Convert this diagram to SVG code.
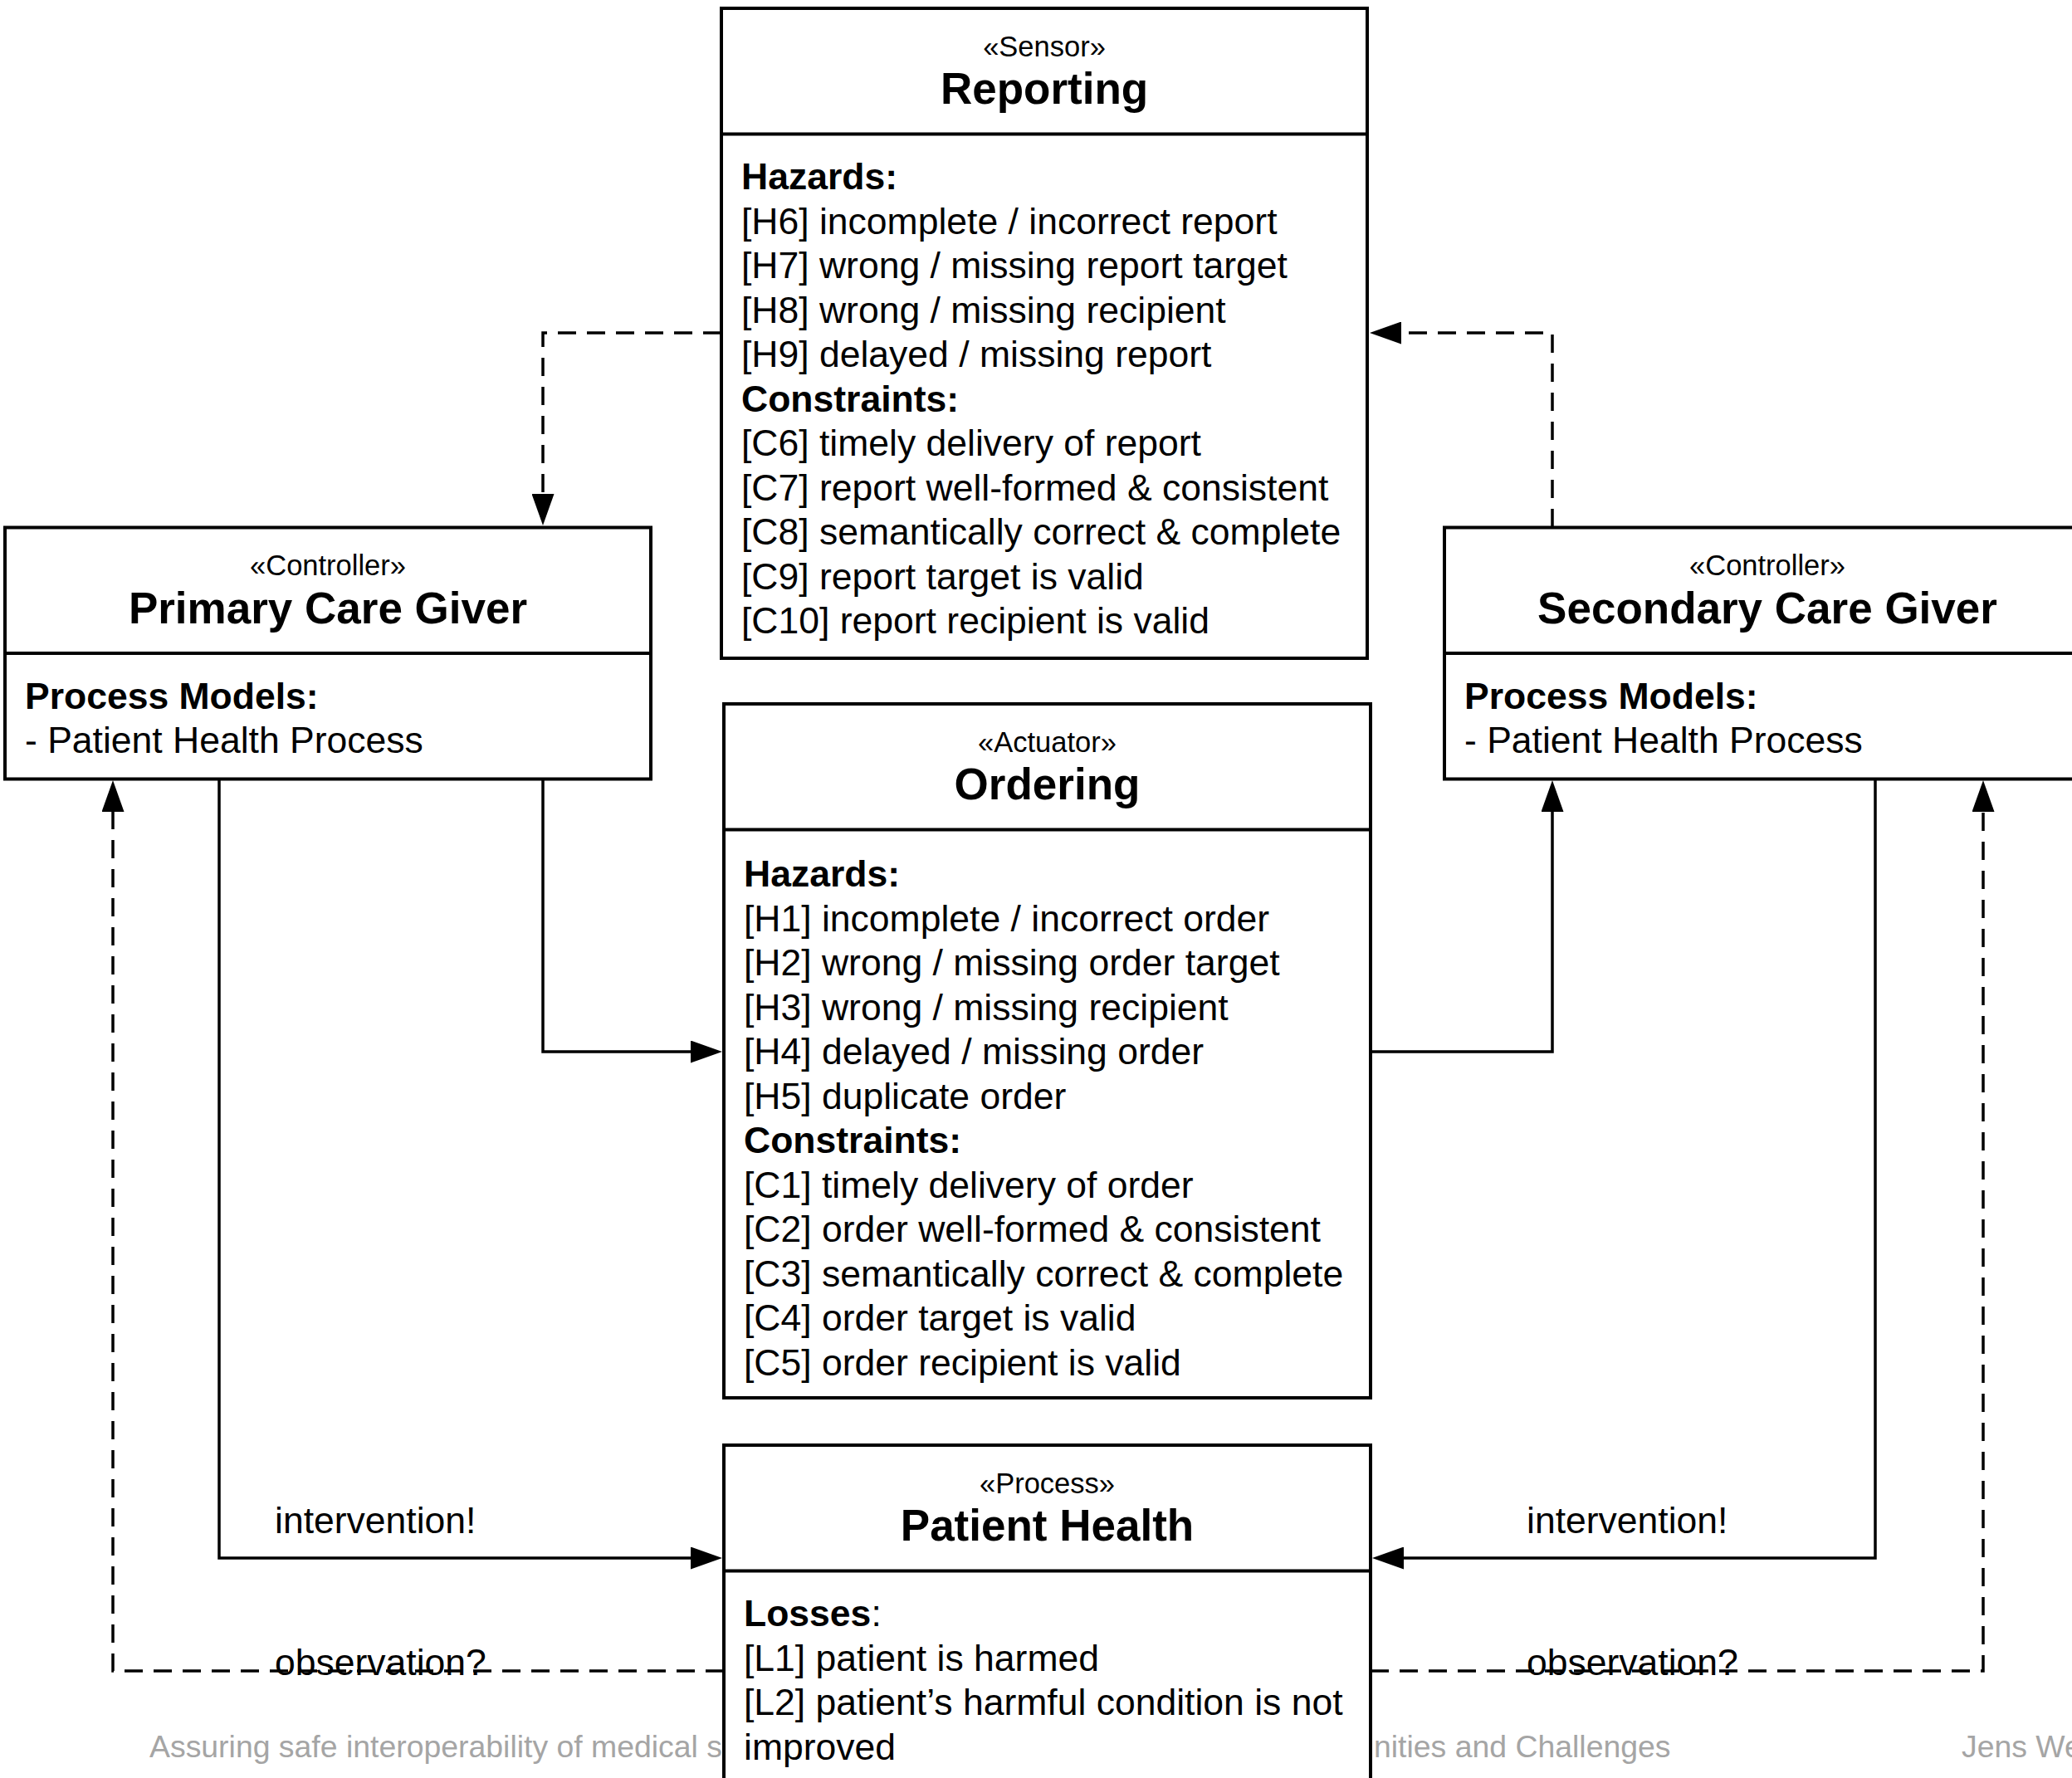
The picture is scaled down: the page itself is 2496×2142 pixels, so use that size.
<svg xmlns="http://www.w3.org/2000/svg" width="2496" height="2142" viewBox="0 0 2496 2142">
<defs>
<marker id="arr" viewBox="0 0 38 27" refX="1" refY="13.5" markerWidth="38" markerHeight="27" markerUnits="userSpaceOnUse" orient="auto">
<path d="M0,0 L38,13.5 L0,27 Z" fill="#000"/>
</marker>
<style>
text{font-family:"Liberation Sans",Arial,Helvetica,sans-serif;fill:#000}
.box{fill:#fff;stroke:#000;stroke-width:4}
.div{stroke:#000;stroke-width:4}
.st{font-size:34.5px;text-anchor:middle}
.ti{font-size:53px;font-weight:bold;text-anchor:middle}
.bd{font-size:44.5px}
.b{font-weight:bold}
.lab{font-size:44.5px}
.ft{font-size:37.4px;fill:#a5a5a5}
.sol{fill:none;stroke:#000;stroke-width:3.5}
.dsh{fill:none;stroke:#000;stroke-width:3.5;stroke-dasharray:22 13}
</style>
</defs>
<rect width="2496" height="2142" fill="#fff"/>

<g id="footer">
<text class="ft" x="180" y="2117">Assuring safe interoperability of medical sy</text>
<text class="ft" x="1655" y="2117">nities and Challenges</text>
<text class="ft" x="2363" y="2117">Jens Weber</text>
</g>

<g id="connectors">
<path class="dsh" d="M869,401 H654 V596" marker-end="url(#arr)"/>
<path class="dsh" d="M1870,635 V401 H1687" marker-end="url(#arr)"/>
<path class="sol" d="M654,938 V1267 H833" marker-end="url(#arr)"/>
<path class="sol" d="M1651,1267 H1870 V977" marker-end="url(#arr)"/>
<path class="sol" d="M264,938 V1877 H833" marker-end="url(#arr)"/>
<path class="sol" d="M2259,938 V1877 H1690" marker-end="url(#arr)"/>
<path class="dsh" d="M872,2013 H136 V977" marker-end="url(#arr)"/>
<path class="dsh" d="M1651,2013 H2389 V977" marker-end="url(#arr)"/>
<text class="lab" x="331" y="1847">intervention!</text>
<text class="lab" x="1839" y="1847">intervention!</text>
<text class="lab" x="331" y="2018">observation?</text>
<text class="lab" x="1839" y="2018">observation?</text>
</g>

<g id="reporting">
<rect class="box" x="869" y="10" width="778" height="783"/>
<line class="div" x1="869" y1="161.5" x2="1647" y2="161.5"/>
<text class="st" x="1258" y="67.5">«Sensor»</text>
<text class="ti" x="1258" y="125">Reporting</text>
<text class="bd" x="893">
<tspan class="b" x="893" y="228">Hazards:</tspan>
<tspan x="893" y="281.5">[H6] incomplete / incorrect report</tspan>
<tspan x="893" y="335">[H7] wrong / missing report target</tspan>
<tspan x="893" y="388.5">[H8] wrong / missing recipient</tspan>
<tspan x="893" y="442">[H9] delayed / missing report</tspan>
<tspan class="b" x="893" y="495.5">Constraints:</tspan>
<tspan x="893" y="549">[C6] timely delivery of report</tspan>
<tspan x="893" y="602.5">[C7] report well-formed &amp; consistent</tspan>
<tspan x="893" y="656">[C8] semantically correct &amp; complete</tspan>
<tspan x="893" y="709.5">[C9] report target is valid</tspan>
<tspan x="893" y="763">[C10] report recipient is valid</tspan>
</text>
</g>

<g id="primary">
<rect class="box" x="6" y="635.5" width="778" height="303"/>
<line class="div" x1="6" y1="787" x2="784" y2="787"/>
<text class="st" x="395" y="693">«Controller»</text>
<text class="ti" x="395" y="750.5">Primary Care Giver</text>
<text class="bd">
<tspan class="b" x="30" y="853.5">Process Models:</tspan>
<tspan x="30" y="907">- Patient Health Process</tspan>
</text>
</g>

<g id="secondary">
<rect class="box" x="1740" y="635.5" width="778" height="303"/>
<line class="div" x1="1740" y1="787" x2="2518" y2="787"/>
<text class="st" x="2129" y="693">«Controller»</text>
<text class="ti" x="2129" y="750.5">Secondary Care Giver</text>
<text class="bd">
<tspan class="b" x="1764" y="853.5">Process Models:</tspan>
<tspan x="1764" y="907">- Patient Health Process</tspan>
</text>
</g>

<g id="ordering">
<rect class="box" x="872" y="848" width="779" height="836"/>
<line class="div" x1="872" y1="999.5" x2="1651" y2="999.5"/>
<text class="st" x="1261.5" y="905.5">«Actuator»</text>
<text class="ti" x="1261.5" y="963">Ordering</text>
<text class="bd">
<tspan class="b" x="896" y="1068">Hazards:</tspan>
<tspan x="896" y="1121.5">[H1] incomplete / incorrect order</tspan>
<tspan x="896" y="1175">[H2] wrong / missing order target</tspan>
<tspan x="896" y="1228.5">[H3] wrong / missing recipient</tspan>
<tspan x="896" y="1282">[H4] delayed / missing order</tspan>
<tspan x="896" y="1335.5">[H5] duplicate order</tspan>
<tspan class="b" x="896" y="1389">Constraints:</tspan>
<tspan x="896" y="1442.5">[C1] timely delivery of order</tspan>
<tspan x="896" y="1496">[C2] order well-formed &amp; consistent</tspan>
<tspan x="896" y="1549.5">[C3] semantically correct &amp; complete</tspan>
<tspan x="896" y="1603">[C4] order target is valid</tspan>
<tspan x="896" y="1656.5">[C5] order recipient is valid</tspan>
</text>
</g>

<g id="patient-health">
<rect class="box" x="872" y="1741" width="779" height="460"/>
<line class="div" x1="872" y1="1892.5" x2="1651" y2="1892.5"/>
<text class="st" x="1261.5" y="1798.5">«Process»</text>
<text class="ti" x="1261.5" y="1856">Patient Health</text>
<text class="bd">
<tspan x="896" y="1959"><tspan class="b">Losses</tspan>:</tspan>
<tspan x="896" y="2012.5">[L1] patient is harmed</tspan>
<tspan x="896" y="2066">[L2] patient’s harmful condition is not</tspan>
<tspan x="896" y="2119.5">improved</tspan>
</text>
</g>
</svg>
